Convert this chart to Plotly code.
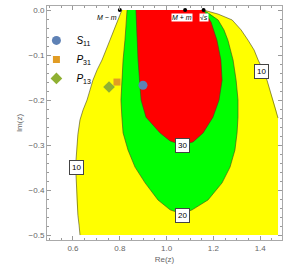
import plotly.graph_objects as go

# contour boundaries (data units)
yellow_left_x = [0.809,0.801,0.792,0.775,0.758,0.741,0.724,0.703,0.685,0.673,0.660,0.643,0.630,0.621,0.617,0.613,0.613,0.615,0.617,0.621,0.626,0.630]
yellow_left_y = [0,-0.011,-0.022,-0.044,-0.067,-0.089,-0.111,-0.133,-0.156,-0.178,-0.2,-0.222,-0.244,-0.276,-0.3,-0.333,-0.367,-0.4,-0.433,-0.456,-0.478,-0.5]
yellow_right_x = [1.158,1.220,1.280,1.318,1.348,1.374,1.391,1.412,1.429,1.442,1.455,1.468,1.476]
yellow_right_y = [0,-0.009,-0.022,-0.044,-0.067,-0.089,-0.111,-0.133,-0.156,-0.178,-0.2,-0.222,-0.24]
domain_x = [0.630, 1.476]
domain_y = [-0.5, 0.0]

green_x = [0.831,0.827,0.822,0.814,0.809,0.805,0.809,0.814,0.835,0.865,0.908,0.963,1.015,1.066,1.109,1.177,1.237,1.271,1.292,1.301,1.305,1.305,1.297,1.284,1.262,1.245,1.220,1.186,1.158]
green_y = [0,-0.033,-0.067,-0.111,-0.156,-0.2,-0.238,-0.273,-0.311,-0.349,-0.384,-0.422,-0.444,-0.453,-0.444,-0.422,-0.384,-0.349,-0.311,-0.273,-0.238,-0.2,-0.156,-0.111,-0.067,-0.044,-0.022,-0.009,0]

red_x = [0.869,0.874,0.878,0.886,0.891,0.912,0.972,1.015,1.066,1.113,1.156,1.198,1.224,1.237,1.232,1.215,1.190,1.158]
red_y = [0,-0.067,-0.111,-0.167,-0.2,-0.238,-0.273,-0.291,-0.3,-0.293,-0.273,-0.238,-0.2,-0.156,-0.111,-0.067,-0.027,0]

contour_levels = ["10", "20", "30"]
label10_left = (0.613, -0.349)
label10_right = (1.405, -0.136)

# thresholds on the real axis
thr_names = ["<i>M</i> − <i>m</i>", "<i>M</i> + <i>m</i>", "√<i>s</i>"]
thr_x = [0.800, 1.079, 1.158]

# states
state_names = ["<i>S</i><sub>11</sub>", "<i>P</i><sub>31</sub>", "<i>P</i><sub>13</sub>"]
state_x = [0.899, 0.788, 0.754]
state_y = [-0.167, -0.160, -0.171]
state_colors = ["#5E81B5", "#E19C24", "#8FB032"]
state_symbols = ["circle", "square", "diamond"]
state_sizes = [9, 7, 9]

fig = go.Figure()
linec = "rgba(70,70,30,0.75)"

# yellow region (>10)
yx = yellow_left_x[:1] + yellow_right_x + [domain_x[1], domain_x[1], domain_x[0]] + yellow_left_x[::-1]
yy = yellow_left_y[:1] + yellow_right_y + [yellow_right_y[-1], domain_y[0], domain_y[0]] + yellow_left_y[::-1]
fig.add_trace(go.Scatter(x=yx, y=yy, fill="toself", fillcolor="#FFFF00", mode="none",
                         showlegend=False, hoverinfo="skip"))
fig.add_trace(go.Scatter(x=green_x, y=green_y, fill="toself", fillcolor="#00FF00", mode="none",
                         showlegend=False, hoverinfo="skip"))
fig.add_trace(go.Scatter(x=red_x, y=red_y, fill="toself", fillcolor="#FF0000", mode="none",
                         showlegend=False, hoverinfo="skip"))
for xs, ys in [(yellow_left_x, yellow_left_y), (yellow_right_x, yellow_right_y), (green_x, green_y), (red_x, red_y)]:
    fig.add_trace(go.Scatter(x=xs, y=ys, mode="lines", line=dict(color=linec, width=0.8),
                             showlegend=False, hoverinfo="skip"))

# threshold dots
fig.add_trace(go.Scatter(x=thr_x, y=[0, 0, 0], mode="markers", marker=dict(color="black", size=4),
                         showlegend=False, cliponaxis=False, hoverinfo="skip"))

for n, x, y, c, s, sz in zip(state_names, state_x, state_y, state_colors, state_symbols, state_sizes):
    fig.add_trace(go.Scatter(x=[x], y=[y], mode="markers", name=n,
                             marker=dict(color=c, symbol=s, size=sz)))

ann = []
box = dict(bgcolor="white", bordercolor="#444", borderwidth=1, borderpad=2,
           font=dict(family="Liberation Sans, Arial", size=8, color="black"), showarrow=False)
ann.append(dict(x=label10_left[0], y=label10_left[1], text=contour_levels[0], **box))
ann.append(dict(x=label10_right[0], y=label10_right[1], text=contour_levels[0], **box))
ann.append(dict(x=green_x[13], y=green_y[13] - 0.003, text=contour_levels[1], **box))
ann.append(dict(x=red_x[8], y=red_y[8], text=contour_levels[2], **box))

tfont = dict(family="Liberation Sans, Arial", size=7, color="black")
ann.append(dict(x=thr_x[0], y=0, text=thr_names[0], xanchor="right", yanchor="top", xshift=-1, yshift=-2,
                showarrow=False, font=tfont))
ann.append(dict(x=thr_x[1] - 0.013, y=0, text=thr_names[1], yanchor="top", yshift=-3, showarrow=False,
                font=tfont, bgcolor="white", borderpad=0))
ann.append(dict(x=thr_x[2], y=0, text=thr_names[2], yanchor="top", yshift=-3, showarrow=False,
                font=tfont, bgcolor="white", borderpad=0))

axfont = dict(family="Liberation Sans, Arial", size=8, color="#666")
common = dict(showgrid=False, zeroline=False, showline=True, linecolor="#aaa", linewidth=1,
              ticks="inside", ticklen=4, tickcolor="#999", mirror="allticks", tickformat=".1f",
              tickfont=axfont)
fig.update_layout(
    width=300, height=268, margin=dict(l=47, r=18, t=6, b=28),
    paper_bgcolor="white", plot_bgcolor="white",
    xaxis=dict(range=[0.489, 1.493], tick0=0.6, dtick=0.2,
               minor=dict(dtick=0.05, ticks="inside", ticklen=2, tickcolor="#999"),
               title=dict(text="Re(z)", font=axfont, standoff=4), **common),
    yaxis=dict(range=[-0.511, 0.009], tick0=0, dtick=0.1,
               minor=dict(dtick=0.02, ticks="inside", ticklen=2, tickcolor="#999"),
               title=dict(text="Im(z)", font=axfont, standoff=4), **common),
    legend=dict(x=-0.045, y=0.915, xanchor="left", yanchor="top", bgcolor="rgba(0,0,0,0)",
                font=dict(family="Liberation Sans, Arial", size=10, color="black"),
                itemwidth=30, tracegroupgap=0),
    annotations=ann, showlegend=True,
)
fig.write_html("out.html")
